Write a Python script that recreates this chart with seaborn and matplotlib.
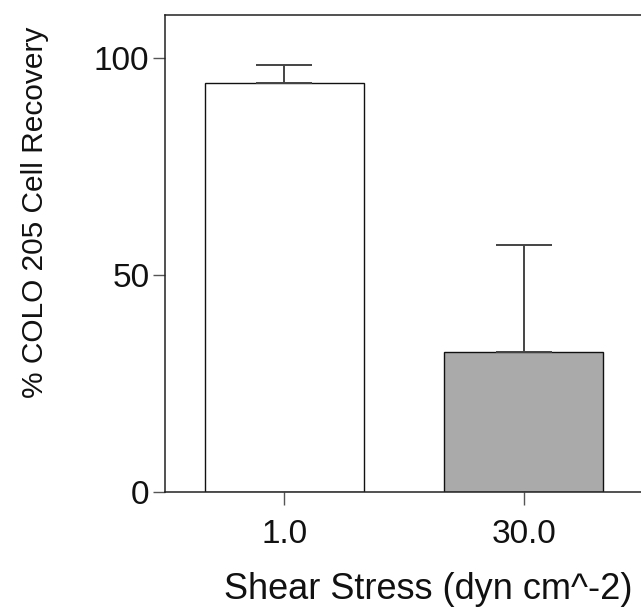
import matplotlib
matplotlib.use("Agg")
import matplotlib.pyplot as plt
import seaborn as sns
import pandas as pd

categories = ["1.0", "30.0"]
means = [94.2, 32.2]
errors = [4.1, 24.6]
colors = ["#ffffff", "#aaaaaa"]
yticks = [0, 50, 100]

sns.set_theme(style="white")
plt.rcParams["font.family"] = ["Liberation Sans", "DejaVu Sans"]

fig = plt.figure(figsize=(6.41, 6.14), dpi=100)
W, H = 641, 614
x0, x1 = 164.6, 643.4
y0, y1 = 491.7, 14.7
ax = fig.add_axes([x0 / W, 1 - y0 / H, (x1 - x0) / W, (y0 - y1) / H])

df = pd.DataFrame({"cat": categories, "val": means})
sns.barplot(data=df, x="cat", y="val", hue="cat", palette=colors, legend=False,
            errorbar=None, width=0.664, edgecolor="#111111", linewidth=1.0, ax=ax)

ax.errorbar(range(len(categories)), means, yerr=[[0] * len(errors), errors],
            fmt="none", ecolor="#444444", elinewidth=1.4, capsize=20, capthick=1.4, zorder=1)

ax.set_xlim(-0.5, 1.5)
ax.set_ylim(0, 110)
ax.set_yticks(yticks)
ax.set_yticklabels([str(t) for t in yticks])

for s in ["left", "bottom", "top"]:
    ax.spines[s].set_color("#222222")
    ax.spines[s].set_linewidth(1.1)
ax.spines["right"].set_visible(False)

ax.tick_params(axis="both", which="major", length=9, width=1.0, color="#555555",
               labelsize=24, labelcolor="#111111", pad=2, left=True, bottom=True)
ax.tick_params(axis="x", pad=11)

ax.set_xlabel("Shear Stress (dyn cm^-2)", fontsize=26, color="#111111")
ax.set_ylabel("% COLO 205 Cell Recovery", fontsize=21.5, color="#111111")
ax.xaxis.label.set_va("center")
ax.yaxis.label.set_va("center")
ax.xaxis.set_label_coords(0.55, -0.206)
ax.yaxis.set_label_coords(-0.27, 0.585)

fig.savefig("out.png", dpi=100)
